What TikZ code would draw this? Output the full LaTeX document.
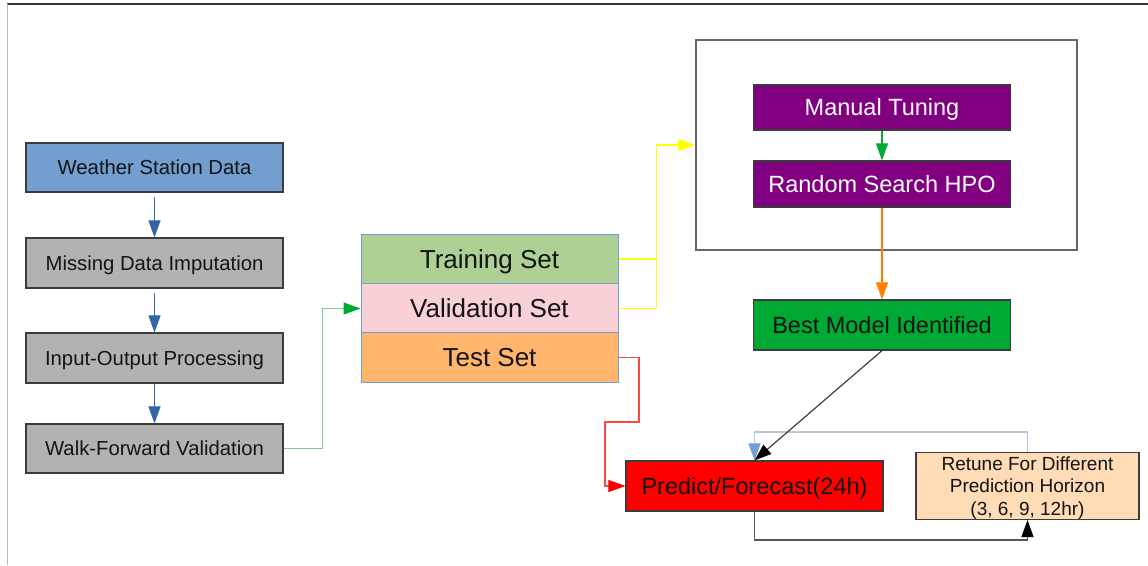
\documentclass[tikz,border=0pt]{standalone}
\usepackage{fontspec}
\setmainfont{Liberation Sans}
\usetikzlibrary{arrows.meta}
\definecolor{wblue}{RGB}{114,159,207}
\definecolor{bgray}{RGB}{178,178,178}
\definecolor{bord}{RGB}{60,60,60}
\definecolor{arrblue}{RGB}{52,101,164}
\definecolor{tgreen}{RGB}{175,208,149}
\definecolor{vpink}{RGB}{247,209,213}
\definecolor{torange}{RGB}{255,182,108}
\definecolor{purp}{RGB}{128,0,128}
\definecolor{bgreen}{RGB}{0,169,51}
\definecolor{lgreen}{RGB}{119,206,140}
\definecolor{rpeach}{RGB}{255,219,182}
\definecolor{lblue}{RGB}{180,199,220}
\definecolor{orng}{RGB}{255,128,0}
\definecolor{yel}{RGB}{255,255,0}
\definecolor{txt}{RGB}{20,20,20}
\tikzset{
  box/.style={draw=bord, line width=1.2pt, inner sep=0pt, minimum width=257pt, text=txt, align=center},
  leftbox/.style={box, text height=18.4pt, text depth=4.3pt, minimum height=49pt, font=\fontsize{20.3}{24}\selectfont},
  setbox/.style={box, text height=23.5pt, text depth=5.5pt, draw=wblue, line width=1pt, minimum height=49.5pt, font=\fontsize{26}{30}\selectfont},
  midbox/.style={box, text height=21.3pt, text depth=5pt, font=\fontsize{23.5}{27}\selectfont},
  tip/.style={-{Triangle[length=17pt,width=12pt,fill=#1,color=#1]}},
  conn/.style={line width=1.1pt}
}
\begin{document}
\begin{tikzpicture}[x=1pt,y=-1pt]
\useasboundingbox (0,0) rectangle (1148,565);
\fill[white] (0,0) rectangle (1148,565);
% frame lines
\draw[color={rgb,255:red,51;green,51;blue,51}, line width=1.2pt] (7,4) -- (1148,4);
\draw[color={rgb,255:red,187;green,187;blue,187}, line width=1pt] (7,4) -- (7,565);

% left column
\node[leftbox, fill=wblue, minimum height=49pt] (wsd) at (154.5,167.5) {Weather Station Data};
\node[leftbox, fill=bgray, minimum height=50pt] (mdi) at (154.5,263) {Missing Data Imputation};
\node[leftbox, fill=bgray, minimum height=50pt] (iop) at (154.5,358) {Input-Output Processing};
\node[leftbox, fill=bgray, minimum height=49pt] (wfv) at (154.5,448.5) {Walk-Forward Validation};

% sets
\node[setbox, fill=tgreen] (train) at (489.5,259) {Training Set};
\node[setbox, fill=vpink] (val) at (489.5,308.5) {Validation Set};
\node[setbox, fill=torange] (test) at (489.5,357.5) {Test Set};

% tuning group
\node[draw={rgb,255:red,102;green,102;blue,102}, line width=1.2pt, minimum width=381pt, minimum height=210pt, inner sep=0pt] (grp) at (886.5,145) {};
\node[midbox, fill=purp, text=white, minimum height=45pt] (man) at (882,107.5) {Manual Tuning};
\node[midbox, fill=purp, text=white, minimum height=46pt] (rnd) at (882,184) {Random Search HPO};
\node[midbox, fill=bgreen, minimum height=50pt] (best) at (882,325) {Best Model Identified};
\node[midbox, fill=red, minimum height=50pt, minimum width=257pt] (pred) at (754.5,486) {Predict/Forecast(24h)};
\node[box, fill=rpeach, minimum width=223pt, minimum height=66pt, font=\fontsize{19}{22.3}\selectfont] (ret) at (1027.5,486) {\raisebox{-2.5pt}[\height][\depth]{\begin{tabular}{@{}c@{}}Retune For Different\\Prediction Horizon\\(3, 6, 9, 12hr)\end{tabular}}};

% left column arrows
\draw[conn, arrblue, tip=arrblue, shorten <=4pt] (wsd.south) -- (mdi.north);
\draw[conn, arrblue, tip=arrblue, shorten <=4pt] (mdi.south) -- (iop.north);
\draw[conn, arrblue, tip=arrblue] (iop.south) -- (wfv.north);

% walk-forward to sets
\draw[conn, lgreen, tip=bgreen] (wfv.east) -- ([xshift=39pt]wfv.east) |- (val.west);

% sets to tuning
\draw[conn, yel, line width=1.4pt] (train.east) -- ([xshift=38pt]train.east);
\draw[conn, yel, line width=1.4pt, tip=yel] (val.east) -- ([xshift=38pt]val.east) |- (grp.west);

% tuning internal
\draw[conn, bgreen, tip=bgreen] (man.south) -- (rnd.north);
\draw[conn, orng, tip=orng] (rnd.south) -- (best.north);

% test to predict
\coordinate (r1) at (639,422);
\coordinate (r2) at (605,422);
\draw[conn, color={rgb,255:red,255;green,70;blue,70}, tip=red] (test.east) -| (r1) -- (r2) |- (pred.west);

% best to predict
\coordinate (lp) at (1027.5,432);
\draw[conn, lblue, tip=wblue] (ret.north) -- (lp) -| (pred.north);
\draw[conn, color={rgb,255:red,51;green,51;blue,51}, tip=black] (best.south) -- (pred.north);

% predict to retune
\coordinate (bp) at (754.5,540);
\draw[conn, color={rgb,255:red,85;green,85;blue,85}, tip=black] (pred.south) -- (bp) -| (ret.south);
\end{tikzpicture}
\end{document}
